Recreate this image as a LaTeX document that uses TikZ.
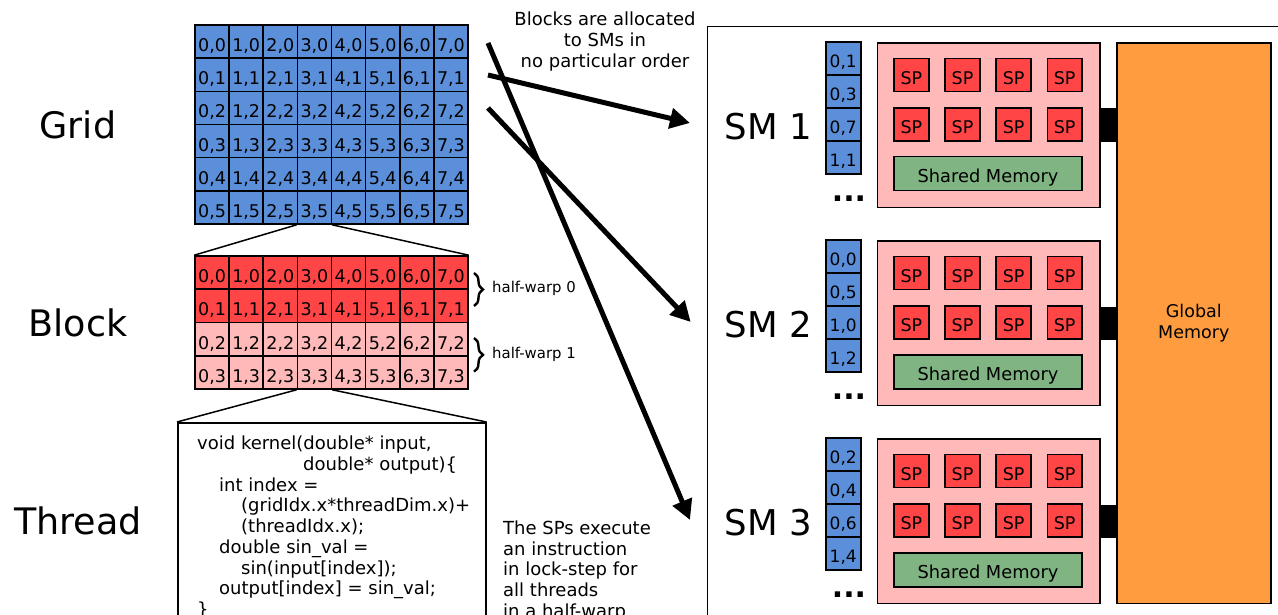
\documentclass[tikz,border=0pt]{standalone}
\usepackage{fontspec}
\setmainfont{DejaVu Sans}
\usetikzlibrary{arrows.meta,decorations.pathreplacing}
\definecolor{cblue}{HTML}{5B8FDA}
\definecolor{cred}{HTML}{FF4545}
\definecolor{cpink}{HTML}{FFB9B9}
\definecolor{cgreen}{HTML}{80B482}
\definecolor{corange}{HTML}{FF9C40}
\def\pr#1#2{#1,#2}
\begin{document}
\begin{tikzpicture}[x=1pt,y=-1pt,
  gcell/.style={draw, line width=1.6pt, inner sep=0pt, minimum width=34.1pt, minimum height=33.2pt, text height=20pt, text depth=0pt, font=\fontsize{17.5}{20}\selectfont},
  lcell/.style={draw, line width=1.6pt, inner sep=0pt, fill=cblue, minimum width=35pt, minimum height=33pt, text height=18pt, text depth=0pt, font=\fontsize{17}{20}\selectfont},
  spbox/.style={draw, line width=1.6pt, inner sep=0pt, fill=cred, minimum width=34.7pt, minimum height=33.3pt, text height=19pt, text depth=0pt, font=\fontsize{17.5}{20}\selectfont},
  shmem/.style={draw, line width=1.6pt, inner sep=0pt, fill=cgreen, minimum width=188pt, minimum height=34pt, text height=17pt, text depth=0pt, font=\fontsize{17.8}{20}\selectfont},
  pinkbox/.style={draw, line width=1.6pt, inner sep=0pt, fill=cpink, minimum width=222.3pt, minimum height=164.7pt, anchor=north west},
  biglabel/.style={inner sep=0pt, font=\fontsize{36.5}{40}\selectfont},
  smlabel/.style={inner sep=0pt, font=\fontsize{35.5}{40}\selectfont},
  bodytext/.style={inner sep=0pt, align=left, font=\fontsize{18}{20.7}\selectfont},
  thinline/.style={line width=1.5pt},
  arr/.style={line width=5pt, -{Triangle[length=20pt,width=20pt]}},
  bracestyle/.style={decorate, decoration={brace, amplitude=9pt}, line width=2.4pt},
  hwlabel/.style={inner sep=0pt, anchor=west, font=\fontsize{14.9}{17}\selectfont}]
\useasboundingbox (0,0) rectangle (1278,615);
\clip (0,0) rectangle (1278,615);
\fill[white] (0,0) rectangle (1278,615);

% outer SM frame (runs off the page)
\node[draw, line width=1.4pt, inner sep=0pt, minimum width=700pt, minimum height=700pt, anchor=north west] (smframe) at (707,26) {};

% left labels
\node[biglabel] (lgrid) at (78,125) {Grid};
\node[biglabel] (lblock) at (78,323) {Block};
\node[biglabel] (lthread) at (78,521) {Thread};

% grid
\foreach \i in {0,...,7}
  \foreach \j in {0,...,5}
    \node[gcell, fill=cblue] (g-\i-\j) at ({195+34.125*(\i+0.5)},{25+33.17*(\j+0.5)}) {\i,\j};

% block
\foreach \i in {0,...,7}
  \foreach \j in {0,1}
    \node[gcell, fill=cred, minimum height=33.25pt] (b-\i-\j) at ({195+34.125*(\i+0.5)},{256+33.25*(\j+0.5)}) {\i,\j};
\foreach \i in {0,...,7}
  \foreach \j in {2,3}
    \node[gcell, fill=cpink, minimum height=33.25pt] (b-\i-\j) at ({195+34.125*(\i+0.5)},{256+33.25*(\j+0.5)}) {\i,\j};

\draw[thinline] (g-3-5.south west) -- (b-0-0.north west);
\draw[thinline] (g-3-5.south east) -- (b-7-0.north east);

% braces
\coordinate (br0a) at (474,273);
\coordinate (br0b) at (474,306);
\coordinate (br1a) at (474,338);
\coordinate (br1b) at (474,371.7);
\draw[bracestyle] (br0a) -- (br0b);
\draw[bracestyle] (br1a) -- (br1b);
\node[hwlabel] (hw0) at (492,288) {half-warp 0};
\node[hwlabel] (hw1) at (492,354) {half-warp 1};

% code box
\node[draw, line width=1.5pt, inner sep=0pt, minimum width=308pt, minimum height=240pt, anchor=north west] (codebox) at (177,422) {};
\draw[thinline] (b-3-3.south west) -- (codebox.north west);
\draw[thinline] (b-3-3.south east) -- (codebox.north east);
\node[bodytext, anchor=north west] (code) at (197,436) {void kernel(double* input,\\
\hspace*{106pt}double* output)\{\\
\hspace*{22pt}int index =\\
\hspace*{44pt}(gridIdx.x*threadDim.x)+\\
\hspace*{44pt}(threadIdx.x);\\
\hspace*{22pt}double sin\_val =\\
\hspace*{44pt}sin(input[index]);\\
\hspace*{22pt}output[index] = sin\_val;\\
\}};

\node[bodytext, anchor=north west] (spnote) at (503,520.5) {The SPs execute\\an instruction\\in lock-step for\\all threads\\in a half-warp};

\node[bodytext, align=center, anchor=north] (alloc) at (605,12) {Blocks are allocated\\to SMs in\\no particular order};

% global memory
\node[draw, line width=1.6pt, fill=corange, inner sep=0pt, minimum width=154pt, minimum height=560.5pt, anchor=north west, align=center, font=\fontsize{17.5}{21}\selectfont] (gm) at (1116,42) {Global\\Memory};

% SMs
\foreach \k/\la/\lb/\lc/\ld in {1/01/03/07/11, 2/00/05/10/12, 3/02/04/06/14} {
  \pgfmathsetmacro{\dy}{198*(\k-1)}
  \node[smlabel] (sm\k) at (768.5,127+\dy) {SM \k};
  \node[lcell] (l\k-1) at (843.2,58.5+\dy) {\expandafter\pr\la};
  \node[lcell] (l\k-2) at (843.2,91.5+\dy) {\expandafter\pr\lb};
  \node[lcell] (l\k-3) at (843.2,124.5+\dy) {\expandafter\pr\lc};
  \node[lcell] (l\k-4) at (843.2,157.5+\dy) {\expandafter\pr\ld};
  \node[inner sep=0pt, font=\fontsize{30}{30}\bfseries] (dots\k) at (849,198.7+\dy) {...};
  \node[pinkbox] (pk\k) at (876.7,42+\dy) {};
  \foreach \c/\xx in {1/911.4,2/962.5,3/1013.6,4/1064.7} {
    \node[spbox] (sp\k-a\c) at (\xx,75+\dy) {SP};
    \node[spbox] (sp\k-b\c) at (\xx,124.4+\dy) {SP};
  }
  \node[shmem] (shm\k) at (988,173.7+\dy) {Shared Memory};
  \draw[line width=33.3pt] (pk\k.east) -- (pk\k.east -| gm.west);
}

% arrows
\coordinate (a1) at (488,43);
\coordinate (a2) at (488,75);
\coordinate (a3) at (488,108);
\coordinate (t1) at (690,123);
\coordinate (t2) at (690.7,322);
\coordinate (t3) at (690,520);
\draw[arr] (a1) -- (t3);
\draw[arr] (a2) -- (t1);
\draw[arr] (a3) -- (t2);
\end{tikzpicture}
\end{document}
